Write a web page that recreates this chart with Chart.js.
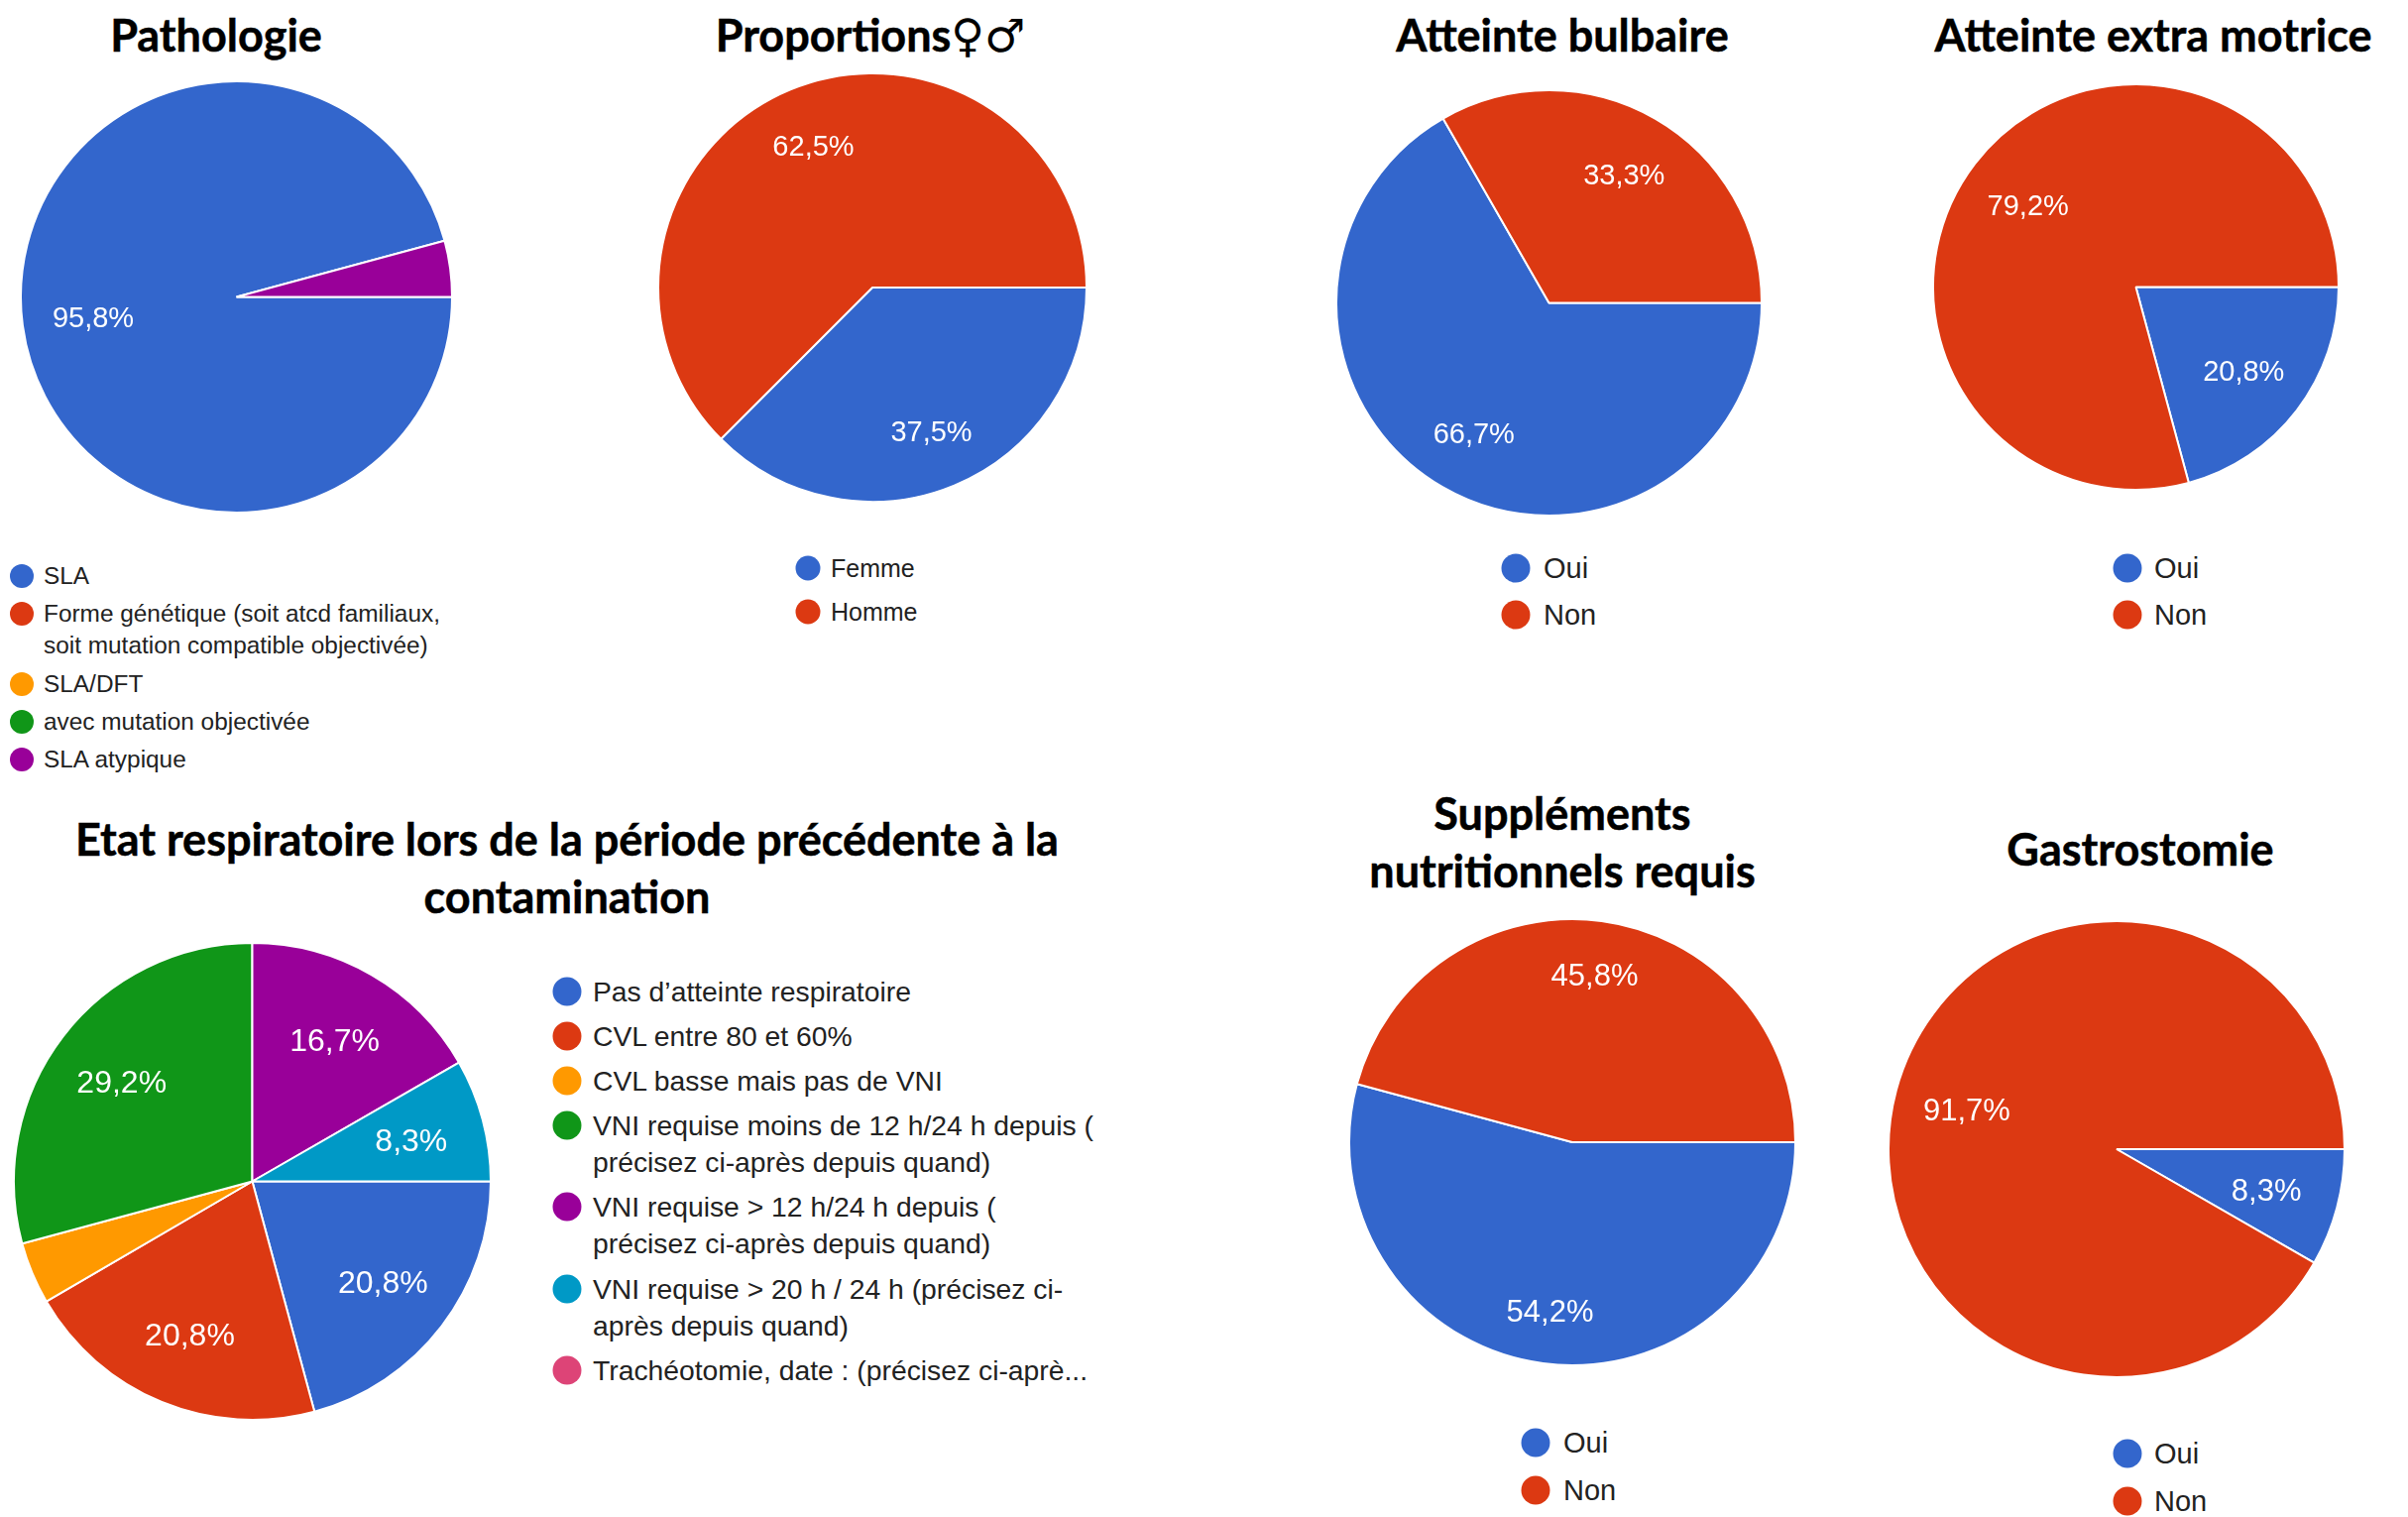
<!DOCTYPE html>
<html lang="fr">
<head>
<meta charset="utf-8">
<title>Pathologie</title>
<script src="https://cdn.jsdelivr.net/npm/chart.js@4/dist/chart.umd.js"></script>
<style>
    html, body { margin: 0; padding: 0; background: #fff; }
    #page { position: relative; width: 2429px; height: 1530px; overflow: hidden; }
    canvas { position: absolute; }
    .title {
        position: absolute;
        transform: translate(-50%, -50%);
        font-family: Lato, sans-serif;
        font-weight: 700;
        font-size: 45px;
        line-height: 58px;
        text-align: center;
        white-space: nowrap;
        color: #000;
        -webkit-text-stroke: 0.5px #000;
    }
    .title .symbols { font-family: "DejaVu Sans", sans-serif; font-weight: 400; font-size: 46px; -webkit-text-stroke: 0; }
    .dot { position: absolute; border-radius: 50%; transform: translate(-50%, -50%); }
    .item { position: absolute; font-family: "Liberation Sans", Arial, sans-serif; color: #222; white-space: nowrap; transform: translateY(-50%); }
</style>
</head>
<body>
<div id="page"></div>
<script>
// couleurs
const palette = ['#3366cc', '#dc3912', '#ff9900', '#109618', '#990099', '#0099c6', '#dd4477'];

const pathologieLabels = ['SLA', 'Forme génétique (soit atcd familiaux,\nsoit mutation compatible objectivée)', 'SLA/DFT', 'avec mutation objectivée', 'SLA atypique'];
const pathologieValues = [95.8, 0, 0, 0, 4.2];

const proportionsLabels = ['Femme', 'Homme'];
const proportionsValues = [37.5, 62.5];

const ouiNon = ['Oui', 'Non'];
const bulbaireValues = [66.7, 33.3];
const extraMotriceValues = [20.8, 79.2];
const supplementsValues = [54.2, 45.8];
const gastrostomieValues = [8.3, 91.7];

const respiratoireLabels = [
    'Pas d’atteinte respiratoire',
    'CVL entre 80 et 60%',
    'CVL basse mais pas de VNI',
    'VNI requise moins de 12 h/24 h depuis (\nprécisez ci-après depuis quand)',
    'VNI requise > 12 h/24 h depuis (\nprécisez ci-après depuis quand)',
    'VNI requise > 20 h / 24 h (précisez ci-\naprès depuis quand)',
    'Trachéotomie, date : (précisez ci-aprè...'
];
const respiratoireValues = [20.8, 20.8, 4.2, 29.2, 16.7, 8.3, 0];

// mise en page, en pixels de la page
const charts = [
    {
        title: 'Pathologie', titleX: 218, titleY: 35,
        labels: pathologieLabels, values: pathologieValues,
        cx: 238.5, cy: 299, r: 218.5, valueFont: 29, labelAt: 0.67,
        legendX: 22, textX: 44, dotR: 12, font: 24.4, lineGap: 32,
        legendY: [581, 619, 690, 728, 766]
    },
    {
        title: 'Proportions', symbols: '♀♂', titleX: 878, titleY: 35,
        labels: proportionsLabels, values: proportionsValues,
        cx: 880, cy: 290, r: 217, valueFont: 29, labelAt: 0.72,
        legendX: 815, textX: 838, dotR: 12.5, font: 25, lineGap: 33,
        legendY: [573, 617]
    },
    {
        title: 'Atteinte bulbaire', titleX: 1576, titleY: 35,
        labels: ouiNon, values: bulbaireValues,
        cx: 1562, cy: 305, r: 215.5, valueFont: 29, labelAt: 0.705,
        legendX: 1529, textX: 1557, dotR: 14.5, font: 29, lineGap: 33,
        legendY: [573, 620]
    },
    {
        title: 'Atteinte extra motrice', titleX: 2172, titleY: 35,
        labels: ouiNon, values: extraMotriceValues,
        cx: 2154, cy: 289, r: 205.5, valueFont: 29, labelAt: 0.67,
        legendX: 2146, textX: 2173, dotR: 14.5, font: 29, lineGap: 33,
        legendY: [573, 620]
    },
    {
        title: 'Etat respiratoire lors de la période précédente à la\ncontamination', titleX: 572, titleY: 875,
        labels: respiratoireLabels, values: respiratoireValues,
        cx: 254, cy: 1191, r: 241.5, valueFont: 32, labelAt: 0.69,
        legendX: 572, textX: 598, dotR: 14.5, font: 28.3, lineGap: 37,
        legendY: [1000, 1045, 1090, 1135, 1217, 1300, 1382]
    },
    {
        title: 'Suppléments\nnutritionnels requis', titleX: 1576, titleY: 849,
        labels: ouiNon, values: supplementsValues,
        cx: 1586, cy: 1152, r: 226, valueFont: 31, labelAt: 0.76,
        legendX: 1549, textX: 1577, dotR: 14.5, font: 29, lineGap: 33,
        legendY: [1455, 1503]
    },
    {
        title: 'Gastrostomie', titleX: 2159, titleY: 856,
        labels: ouiNon, values: gastrostomieValues,
        cx: 2135, cy: 1159, r: 231, valueFont: 31, labelAt: 0.68,
        legendX: 2146, textX: 2173, dotR: 14.5, font: 29, lineGap: 33,
        legendY: [1466, 1514]
    }
];

// pourcentages dans les parts, comme Google Charts: masques sous 5%
const sliceLabels = {
    id: 'sliceLabels',
    afterDatasetsDraw(chart, args, opts) {
        const ctx = chart.ctx;
        const values = chart.data.datasets[0].data;
        const total = values.reduce((a, b) => a + b, 0);
        chart.getDatasetMeta(0).data.forEach((arc, i) => {
            const pct = values[i] / total * 100;
            if (pct < 5) return;
            const mid = (arc.startAngle + arc.endAngle) / 2;
            const x = arc.x + Math.cos(mid) * arc.outerRadius * opts.at;
            const y = arc.y + Math.sin(mid) * arc.outerRadius * opts.at + 3;
            ctx.save();
            ctx.fillStyle = '#fff';
            ctx.font = opts.size + 'px "Liberation Sans", Arial, sans-serif';
            ctx.textAlign = 'center';
            ctx.textBaseline = 'middle';
            ctx.fillText(pct.toFixed(1).replace('.', ',') + '%', x, y);
            ctx.restore();
        });
    }
};

function addTitle(page, conf) {
    const div = document.createElement('div');
    div.className = 'title';
    div.style.left = conf.titleX + 'px';
    div.style.top = conf.titleY + 'px';
    div.innerText = conf.title;
    if (conf.symbols) {
        const span = document.createElement('span');
        span.className = 'symbols';
        span.textContent = conf.symbols;
        div.appendChild(span);
    }
    page.appendChild(div);
}

function addLegend(page, conf) {
    conf.labels.forEach((label, i) => {
        const y = conf.legendY[i];
        const dot = document.createElement('div');
        dot.className = 'dot';
        dot.style.left = conf.legendX + 'px';
        dot.style.top = y + 'px';
        dot.style.width = dot.style.height = conf.dotR * 2 + 'px';
        dot.style.background = palette[i];
        page.appendChild(dot);

        label.split('\n').forEach((line, n) => {
            const item = document.createElement('div');
            item.className = 'item';
            item.style.left = conf.textX + 'px';
            item.style.top = y + n * conf.lineGap + 'px';
            item.style.fontSize = conf.font + 'px';
            item.textContent = line;
            page.appendChild(item);
        });
    });
}

function addPie(page, conf) {
    const pad = 2;
    const canvas = document.createElement('canvas');
    const size = Math.round(conf.r * 2) + pad * 2;
    canvas.width = size;
    canvas.height = size;
    canvas.style.left = Math.round(conf.cx - size / 2) + 'px';
    canvas.style.top = Math.round(conf.cy - size / 2) + 'px';
    page.appendChild(canvas);

    new Chart(canvas.getContext('2d'), {
        type: 'pie',
        data: {
            labels: conf.labels,
            datasets: [{
                data: conf.values,
                backgroundColor: palette.slice(0, conf.values.length),
                borderColor: '#fff',
                borderWidth: 2
            }]
        },
        options: {
            responsive: false,
            animation: false,
            rotation: 90,
            layout: { padding: pad },
            plugins: {
                legend: { display: false },
                tooltip: { enabled: false },
                sliceLabels: { size: conf.valueFont, at: conf.labelAt }
            }
        },
        plugins: [sliceLabels]
    });
}

document.addEventListener('DOMContentLoaded', function() {
    const page = document.getElementById('page');
    charts.forEach(conf => {
        addTitle(page, conf);
        addPie(page, conf);
        addLegend(page, conf);
    });
});
</script>
</body>
</html>
